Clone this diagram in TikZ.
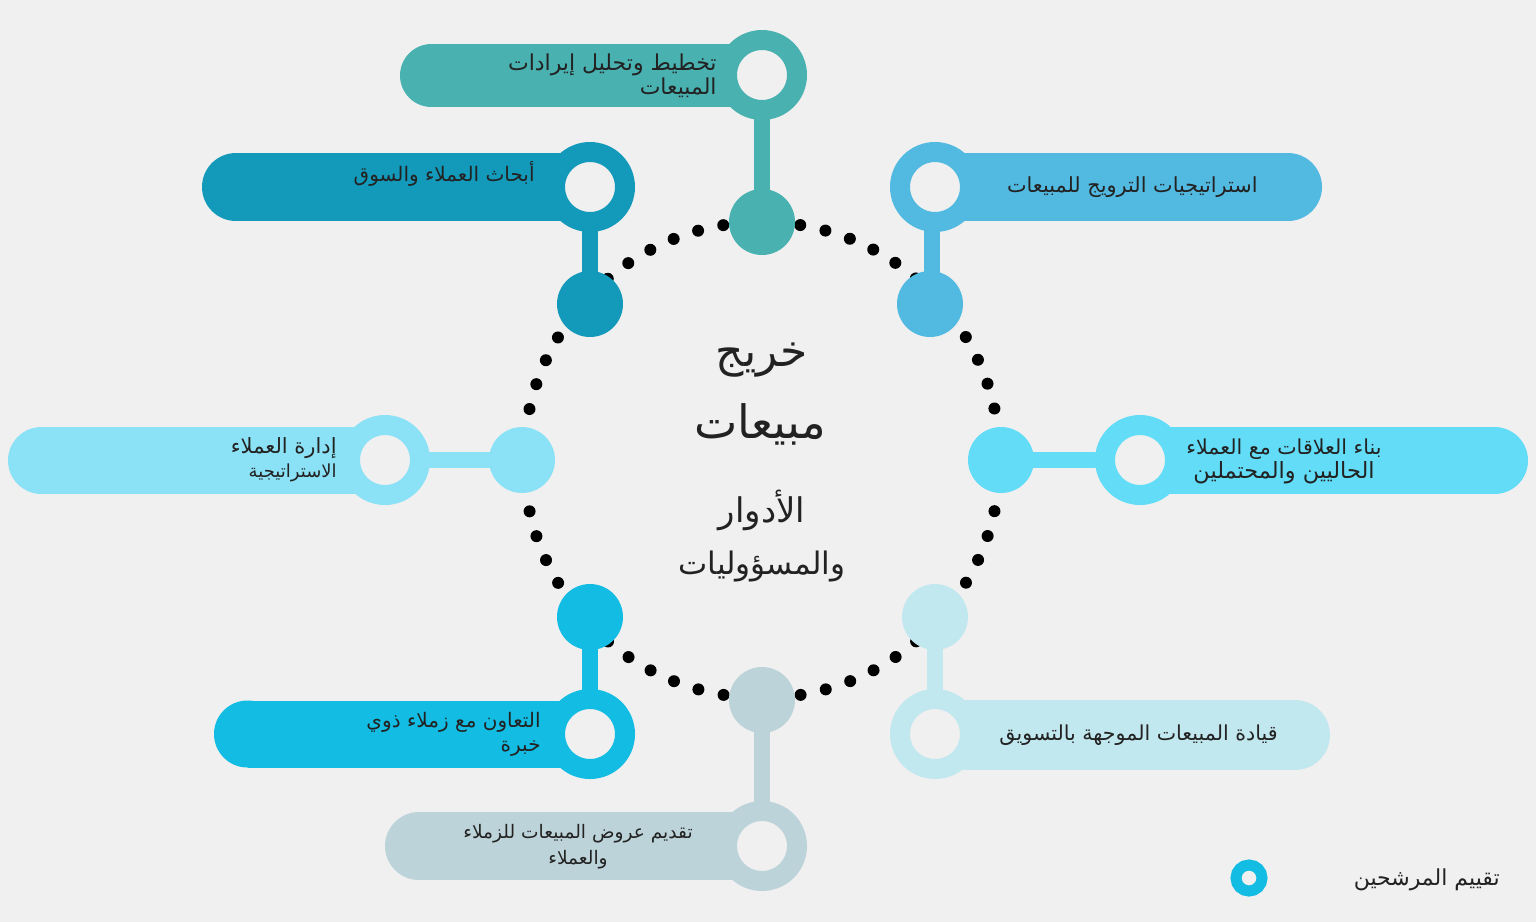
\documentclass[tikz,border=0pt]{standalone}
\usepackage{fontspec}
\newfontfamily\arabicfont[Script=Arabic]{DejaVu Sans}
\TeXXeTstate=1
\usetikzlibrary{backgrounds}
\definecolor{bg}{HTML}{F0F0F0}
\definecolor{cTop}{HTML}{4AB1B1}
\definecolor{cUL}{HTML}{1399BA}
\definecolor{cUR}{HTML}{52B9E0}
\definecolor{cL}{HTML}{8BE1F5}
\definecolor{cR}{HTML}{62DCF7}
\definecolor{cLL}{HTML}{12BCE2}
\definecolor{cLR}{HTML}{C2E8EF}
\definecolor{cB}{HTML}{BDD3DA}
\definecolor{txt}{HTML}{222222}
\newcommand\pillKnobRight[5]{% color, x1, xk, yc, r
  \fill[#1] ({#2+#5},{#4-#5}) rectangle (#3,{#4+#5});
  \fill[#1] ({#2+#5},#4) circle (#5);}
\newcommand\pillKnobLeft[5]{% color, xk, x2, yc, r
  \fill[#1] (#2,{#4-#5}) rectangle ({#3-#5},{#4+#5});
  \fill[#1] ({#3-#5},#4) circle (#5);}
\begin{document}
\begin{tikzpicture}[x=0.5pt,y=-0.5pt,
  knob/.style={circle, draw=#1, fill=bg, line width=10pt, minimum size=35pt, inner sep=0pt},
  ringdot/.style={circle, fill=#1, minimum size=33pt, inner sep=0pt},
  stem/.style={draw=#1, line width=8pt},
  lbl/.style={font=\arabicfont\fontsize{10}{12}\selectfont, text=txt, inner sep=0pt},
  big/.style={font=\arabicfont\fontsize{#1}{#1}\selectfont, text=txt, inner sep=0pt}]
\useasboundingbox (0,0) rectangle (1536,922);
% pills
\pillKnobRight{cTop}{400}{762}{75.5}{31.5}
\pillKnobRight{cUL}{202}{590}{187}{34}
\pillKnobLeft{cUR}{935}{1322}{187}{34}
\pillKnobRight{cL}{8}{385}{460.5}{33.5}
\pillKnobLeft{cR}{1140}{1528}{460.5}{33.5}
\pillKnobRight{cLL}{214}{590}{734}{33.5}
\pillKnobLeft{cLR}{935}{1330}{735}{35}
\pillKnobRight{cB}{385}{762}{846}{34}
% knobs
\node[knob=cTop] (kT) at (762,75) {};
\node[knob=cUL] (kUL) at (590,187) {};
\node[knob=cUR] (kUR) at (935,187) {};
\node[knob=cL] (kL) at (385,460) {};
\node[knob=cR] (kR) at (1140,460) {};
\node[knob=cLL] (kLL) at (590,734) {};
\node[knob=cLR] (kLR) at (935,734) {};
\node[knob=cB] (kB) at (762,846) {};
% ring dots
\coordinate (ctr) at (762,460);
\node[ringdot=cTop] (rT) at (762,222) {};
\node[ringdot=cUL] (rUL) at (590,304) {};
\node[ringdot=cUR] (rUR) at (930,304) {};
\node[ringdot=cL] (rL) at (522,460) {};
\node[ringdot=cR] (rR) at (1001,460) {};
\node[ringdot=cLL] (rLL) at (590,617) {};
\node[ringdot=cLR] (rLR) at (935,617) {};
\node[ringdot=cB] (rB) at (762,700) {};
\begin{scope}[on background layer]
  \fill[bg] (0,0) rectangle (1536,922);
  \draw[line width=6pt, line cap=round, dash pattern=on 0pt off 12.89pt] (ctr) circle (238);
  \draw[stem=cTop] (kT.center) -- (rT.center);
  \draw[stem=cUL] (kUL.center) -- (rUL.center);
  \draw[stem=cUR] (932,187) -- (932,304);
  \draw[stem=cL] (kL.center) -- (rL.center);
  \draw[stem=cR] (kR.center) -- (rR.center);
  \draw[stem=cLL] (kLL.center) -- (rLL.center);
  \draw[stem=cLR] (kLR.center) -- (rLR.center);
  \draw[stem=cB] (kB.center) -- (rB.center);
\end{scope}
% labels
\node[lbl, anchor=east, align=right, font=\arabicfont\fontsize{11}{12}\selectfont] (tT) at (717,76) {\beginR تخطيط وتحليل إيرادات\endR\\\beginR المبيعات\endR};
\node[lbl, anchor=east] (tUL) at (535,174) {\beginR أبحاث العملاء والسوق\endR};
\node[lbl, anchor=east, font=\arabicfont\fontsize{10.4}{12}\selectfont] (tUR) at (1258,187) {\beginR استراتيجيات الترويج للمبيعات\endR};
\node[lbl, anchor=east, align=right] (tL) at (337,460) {{\fontsize{10.5}{12}\selectfont\beginR إدارة العملاء\endR}\\{\fontsize{9}{12}\selectfont\beginR الاستراتيجية\endR}};
\node[lbl, align=center] (tR) at (1284,461) {{\fontsize{10.3}{12}\selectfont\beginR بناء العلاقات مع العملاء\endR}\\{\fontsize{11.2}{13}\selectfont\beginR الحاليين والمحتملين\endR}};
\node[lbl, anchor=east, align=right] (tLL) at (541,734) {\beginR التعاون مع زملاء ذوي\endR\\\beginR خبرة\endR};
\node[lbl, anchor=east, font=\arabicfont\fontsize{10.3}{12}\selectfont] (tLR) at (1278,735) {\beginR قيادة المبيعات الموجهة بالتسويق\endR};
\node[lbl, align=center, font=\arabicfont\fontsize{9.3}{13}\selectfont] (tB) at (578,847) {\beginR تقديم عروض المبيعات للزملاء\endR\\\beginR والعملاء\endR};
% centre
\node[big=22] (c1) at (762,360) {\beginR خريج\endR};
\node[big=23] (c2) at (760,424) {\beginR مبيعات\endR};
\node[big=17] (c3) at (762,510) {\beginR الأدوار\endR};
\node[big=15.5] (c4) at (762,566) {\beginR والمسؤوليات\endR};
% legend
\node[circle, draw=cLL, fill=bg, line width=5.5pt, minimum size=13pt, inner sep=0pt] (leg) at (1249,878) {};
\node[lbl, anchor=east, font=\arabicfont\fontsize{11}{12}\selectfont] (legT) at (1500,880) {\beginR تقييم المرشحين\endR};
\end{tikzpicture}
\end{document}
